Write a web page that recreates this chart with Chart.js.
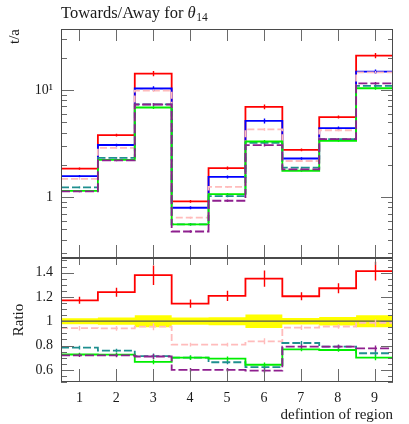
<!DOCTYPE html>
<html>
<head>
<meta charset="utf-8">
<script src="https://cdn.jsdelivr.net/npm/chart.js@4/dist/chart.umd.min.js"></script>
<style>
    html, body { margin: 0; padding: 0; background: #fff; }
    #wrap { position: relative; width: 409px; height: 424px; }
    #main { position: absolute; left: 0; top: 0; }
    #ratio { position: absolute; left: 0; top: 250px; }
</style>
</head>
<body>
<div id="wrap">
    <canvas id="main" width="409" height="262" style="width:409px;height:262px"></canvas>
    <canvas id="ratio" width="409" height="174" style="width:409px;height:174px"></canvas>
</div>
<script>
// bins: definition of region
const regions = [1, 2, 3, 4, 5, 6, 7, 8, 9];

// t/a per region (blue = reference)
const refVals    = [1.57, 3.06, 10.3, 0.795, 1.54, 5.14, 2.29, 4.39, 14.8];
const redVals    = [1.84, 3.79, 14.2, 0.91, 1.86, 6.94, 2.76, 5.58, 20.9];
const pinkVals   = [1.48, 2.88, 9.84, 0.642, 1.243, 4.29, 2.17, 4.20, 14.6];
const tealVals   = [1.23, 2.32, 7.34, 0.557, 1.02, 3.20, 1.88, 3.47, 10.9];
const greenVals  = [1.14, 2.22, 6.85, 0.557, 1.067, 3.30, 1.76, 3.35, 10.36];
const purpleVals = [1.13, 2.20, 7.31, 0.477, 0.924, 3.05, 1.81, 3.47, 11.5];

// relative errors
const refErr    = [0.025, 0.03, 0.05, 0.03, 0.033, 0.055, 0.027, 0.035, 0.05];
const redErr    = [0.025, 0.03, 0.058, 0.03, 0.035, 0.05, 0.028, 0.033, 0.055];
const pinkErr   = [0.02, 0.02, 0.03, 0.02, 0.02, 0.03, 0.02, 0.02, 0.03];
const tealErr   = [0.02, 0.02, 0.03, 0.025, 0.025, 0.03, 0.02, 0.02, 0.03];
const greenErr  = [0.02, 0.02, 0.03, 0.025, 0.025, 0.03, 0.02, 0.02, 0.03];
const purpleErr = [0.02, 0.02, 0.03, 0.025, 0.025, 0.03, 0.02, 0.02, 0.03];

// axis ticks
const mainYTicks  = [1, 10];
const mainYLabels = ['1', '10\u00b9'];
const mainYMinor  = [0.3, 0.4, 0.5, 0.6, 0.7, 0.8, 0.9, 2, 3, 4, 5, 6, 7, 8, 9, 20, 30];
const ratioYTicks = [0.6, 0.8, 1, 1.2, 1.4];
const ratioYMinor = [0.5, 0.55, 0.65, 0.7, 0.75, 0.85, 0.9, 0.95, 1.05, 1.1, 1.15, 1.25, 1.3, 1.35, 1.45, 1.5];

const serif = 'Liberation Serif';
const textColor = '#1a1a1a';

const series = [
    { vals: redVals,    err: redErr,    color: '#ff0000', dash: [] },
    { vals: refVals,    err: refErr,    color: '#0000ff', dash: [], ref: true },
    { vals: pinkVals,   err: pinkErr,   color: '#ffbcbc', dash: [7, 3] },
    { vals: tealVals,   err: tealErr,   color: '#1f8f8f', dash: [8, 3] },
    { vals: greenVals,  err: greenErr,  color: '#00ee00', dash: [] },
    { vals: purpleVals, err: purpleErr, color: '#8e1f8e', dash: [9, 3] }
];

// step points: left edge of each bin, plus the right edge of the last bin
function histPoints(vals) {
    var pts = regions.map(function (r, i) { return { x: r - 0.5, y: vals[i] }; });
    pts.push({ x: regions[regions.length - 1] + 0.5, y: vals[vals.length - 1] });
    return pts;
}

// keep label overhang from shrinking the plot box
function noPad(s) {
    s.paddingTop = 0; s.paddingBottom = 0; s.paddingLeft = 0; s.paddingRight = 0;
}

// frame + inward ticks on all four sides
const frameTicks = {
    id: 'frameTicks',
    afterDatasetsDraw: function (chart, args, opts) {
        const ctx = chart.ctx, a = chart.chartArea;
        const xs = chart.scales.x, ys = chart.scales.y;
        ctx.save();
        ctx.strokeStyle = '#6a6a6a';
        ctx.lineWidth = 1;
        ctx.beginPath();
        regions.forEach(function (v) {
            const px = Math.round(xs.getPixelForValue(v)) + 0.5;
            ctx.moveTo(px, a.bottom); ctx.lineTo(px, a.bottom - opts.xBot);
            ctx.moveTo(px, a.top); ctx.lineTo(px, a.top + opts.xTop);
        });
        opts.yMajor.forEach(function (v) {
            const py = Math.round(ys.getPixelForValue(v)) + 0.5;
            ctx.moveTo(a.left, py); ctx.lineTo(a.left + 13, py);
            ctx.moveTo(a.right, py); ctx.lineTo(a.right - 12, py);
        });
        opts.yMinor.forEach(function (v) {
            const py = Math.round(ys.getPixelForValue(v)) + 0.5;
            ctx.moveTo(a.left, py); ctx.lineTo(a.left + 6, py);
            ctx.moveTo(a.right, py); ctx.lineTo(a.right - 5, py);
        });
        ctx.stroke();
        ctx.strokeStyle = '#4a4a4a';
        ctx.strokeRect(Math.round(a.left) + 0.5, Math.round(a.top) + 0.5,
            Math.round(a.right - a.left) - 1, Math.round(a.bottom - a.top) - 1);
        ctx.restore();
    }
};

// vertical error bars at bin centres
const errorBars = {
    id: 'errorBars',
    afterDatasetsDraw: function (chart) {
        const ctx = chart.ctx, xs = chart.scales.x, ys = chart.scales.y;
        chart.data.datasets.forEach(function (ds) {
            if (!ds.errVals) return;
            ctx.save();
            ctx.strokeStyle = ds.borderColor;
            ctx.lineWidth = 1.4;
            ctx.beginPath();
            regions.forEach(function (r, i) {
                const px = Math.round(xs.getPixelForValue(r)) + 0.5;
                ctx.moveTo(px, ys.getPixelForValue(ds.centreVals[i] - ds.errVals[i]));
                ctx.lineTo(px, ys.getPixelForValue(ds.centreVals[i] + ds.errVals[i]));
            });
            ctx.stroke();
            ctx.restore();
        });
    }
};

const plotTitle = {
    id: 'plotTitle',
    afterDraw: function (chart) {
        const ctx = chart.ctx;
        let x = chart.chartArea.left;
        const y = 18;
        ctx.save();
        ctx.fillStyle = textColor;
        ctx.textBaseline = 'alphabetic';
        ctx.textAlign = 'left';
        ctx.font = '16.5px "' + serif + '"';
        const t = 'Towards/Away for ';
        ctx.fillText(t, x, y);
        x += ctx.measureText(t).width;
        ctx.font = 'italic 16.5px "' + serif + '"';
        ctx.fillText('\u03b8', x, y);
        x += ctx.measureText('\u03b8').width + 0.5;
        ctx.font = '11.5px "' + serif + '"';
        ctx.fillText('14', x, y + 3);
        ctx.restore();
    }
};

const tickFont = { family: serif, size: 14 };

// ---- main panel ----
const mainSets = series.map(function (s, i) {
    return {
        data: histPoints(s.vals),
        borderColor: s.color,
        borderDash: s.dash,
        borderWidth: 1.8,
        stepped: 'before',
        pointRadius: 0,
        fill: false,
        order: series.length - i,
        centreVals: s.vals,
        errVals: s.vals.map(function (v, k) { return v * s.err[k]; })
    };
});

new Chart(document.getElementById('main').getContext('2d'), {
    type: 'line',
    data: { datasets: mainSets },
    options: {
        responsive: false,
        animation: false,
        layout: { padding: { top: 29, right: 16, bottom: 4, left: 0 } },
        plugins: {
            legend: { display: false },
            tooltip: { enabled: false },
            frameTicks: { xTop: 12, xBot: 13, yMajor: mainYTicks, yMinor: mainYMinor }
        },
        scales: {
            x: { type: 'linear', min: 0.5, max: 9.5, display: false },
            y: {
                type: 'logarithmic',
                min: 0.27,
                max: 37,
                grid: { display: false, drawTicks: false },
                border: { display: false },
                afterBuildTicks: function (s) { s.ticks = mainYTicks.map(function (v) { return { value: v }; }); },
                afterFit: function (s) { s.width = 61; noPad(s); },
                ticks: {
                    padding: 8,
                    color: textColor,
                    font: tickFont,
                    callback: function (v) { return mainYLabels[mainYTicks.indexOf(v)]; }
                },
                title: {
                    display: true, text: 't/a', align: 'end', color: textColor,
                    font: { family: serif, size: 15 }, padding: { top: 6, bottom: 0 }
                }
            }
        }
    },
    plugins: [errorBars, frameTicks, plotTitle]
});

// ---- ratio panel ----
const ref = series.filter(function (s) { return s.ref; })[0];
const bandLo = refErr.map(function (e) { return 1 - e; });
const bandHi = refErr.map(function (e) { return 1 + e; });

const ratioSets = [
    { data: histPoints(bandLo), borderWidth: 0, stepped: 'before', pointRadius: 0, fill: false, order: 20 },
    { data: histPoints(bandHi), borderWidth: 0, stepped: 'before', pointRadius: 0, fill: '-1',
      backgroundColor: '#ffff00', order: 19 },
    { data: histPoints(ref.vals.map(function (v, i) { return v / ref.vals[i]; })),
      borderColor: '#555555', borderWidth: 1.2, stepped: 'before', pointRadius: 0, fill: false, order: 18 }
];
series.forEach(function (s, i) {
    if (s.ref) return;
    const r = s.vals.map(function (v, k) { return v / ref.vals[k]; });
    ratioSets.push({
        data: histPoints(r),
        borderColor: s.color,
        borderDash: s.dash,
        borderWidth: 1.8,
        stepped: 'before',
        pointRadius: 0,
        fill: false,
        order: series.length - i,
        centreVals: r,
        errVals: r.map(function (v, k) { return v * s.err[k]; })
    });
});

new Chart(document.getElementById('ratio').getContext('2d'), {
    type: 'line',
    data: { datasets: ratioSets },
    options: {
        responsive: false,
        animation: false,
        layout: { padding: { top: 8, right: 16, bottom: 0, left: 0 } },
        plugins: {
            legend: { display: false },
            tooltip: { enabled: false },
            filler: { propagate: false },
            frameTicks: { xTop: 7, xBot: 13, yMajor: ratioYTicks, yMinor: ratioYMinor }
        },
        scales: {
            x: {
                type: 'linear', min: 0.5, max: 9.5,
                grid: { display: false, drawTicks: false },
                border: { display: false },
                afterBuildTicks: function (s) { s.ticks = regions.map(function (v) { return { value: v }; }); },
                afterFit: function (s) { s.height = 42; noPad(s); },
                ticks: { padding: 8, color: textColor, font: tickFont, maxRotation: 0,
                         callback: function (v) { return String(v); } },
                title: {
                    display: true, text: 'defintion of region', align: 'end', color: textColor,
                    font: { family: serif, size: 15 }, padding: { top: 0, bottom: 0 }
                }
            },
            y: {
                type: 'linear', min: 0.5, max: 1.52,
                grid: { display: false, drawTicks: false },
                border: { display: false },
                afterBuildTicks: function (s) { s.ticks = ratioYTicks.map(function (v) { return { value: v }; }); },
                afterFit: function (s) { s.width = 61; noPad(s); },
                ticks: { padding: 8, color: textColor, font: tickFont,
                         callback: function (v) { return v === 1 ? '1' : v.toFixed(1); } },
                title: {
                    display: true, text: 'Ratio', color: textColor,
                    font: { family: serif, size: 15 }, padding: { top: 10, bottom: 0 }
                }
            }
        }
    },
    plugins: [errorBars, frameTicks]
});
</script>
</body>
</html>
